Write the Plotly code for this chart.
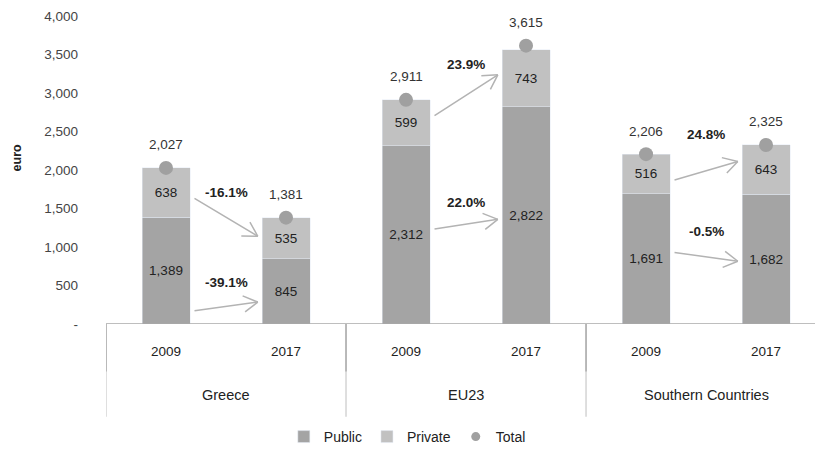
import math
import plotly.graph_objects as go

# Spending per student (euro), split into public and private sources
groups = ["Greece", "EU23", "Southern Countries"]
years = ["2009", "2017"]
public = [1389, 845, 2312, 2822, 1691, 1682]
private = [638, 535, 599, 743, 516, 643]
total = [2027, 1381, 2911, 3615, 2206, 2325]
change_private = ["-16.1%", "23.9%", "24.8%"]
change_public = ["-39.1%", "22.0%", "-0.5%"]
y_ticks = [0, 500, 1000, 1500, 2000, 2500, 3000, 3500, 4000]
y_tick_text = ["-", "500", "1,000", "1,500", "2,000", "2,500", "3,000", "3,500", "4,000"]

# Placement of the change arrows / labels (euro levels: start, end)
arrow_private = [(1644, 1139), (2693, 3236), (1864, 2110)]
arrow_public = [(168, 285), (1230, 1359), (932, 815)]
label_private = [1709, 3366, 2460]
label_public = [544, 1579, 1204]

PUBLIC_C = "#a4a4a4"
PRIVATE_C = "#c1c1c1"
TOTAL_C = "#a0a0a0"
TEXT_C = "#222222"
LINE_C = "#a9a9a9"
ARROW_C = "#b3b3b3"
FONT = "Liberation Sans, Arial, sans-serif"

W, H = 815, 453
M_L, M_R, M_T, M_B = 106, 0, 16, 128
X_RANGE = [-0.5, 5.408]
Y_RANGE = [0, 4000]
plot_w = W - M_L - M_R
plot_h = H - M_T - M_B
px_x = plot_w / (X_RANGE[1] - X_RANGE[0])
px_y = plot_h / (Y_RANGE[1] - Y_RANGE[0])

pos = list(range(len(public)))
BAR_W = 0.4

fig = go.Figure()
fig.add_trace(go.Bar(
    x=pos, y=public, name="Public", marker_color=PUBLIC_C, width=BAR_W,
    texttemplate="%{y:,}", textposition="inside", insidetextanchor="middle",
    textangle=0, textfont=dict(size=13.5, color=TEXT_C, family=FONT),
    hoverinfo="skip",
))
fig.add_trace(go.Bar(
    x=pos, y=private, name="Private", marker_color=PRIVATE_C, width=BAR_W,
    texttemplate="%{y:,}", textposition="inside", insidetextanchor="middle",
    textangle=0, textfont=dict(size=13.5, color=TEXT_C, family=FONT),
    hoverinfo="skip",
))
fig.add_trace(go.Scatter(
    x=pos, y=total, mode="markers", showlegend=False,
    marker=dict(size=14, color=TOTAL_C), hoverinfo="skip",
))
# small dot used only for the legend entry
fig.add_trace(go.Scatter(
    x=[None], y=[None], mode="markers", name="Total",
    marker=dict(size=9, color=TOTAL_C),
))

annotations = []
# total labels above the dots
for p, t in zip(pos, total):
    annotations.append(dict(
        x=p, y=t, xref="x", yref="y", text=f"{t:,}", showarrow=False,
        yshift=23, font=dict(size=13.5, color="#333333", family=FONT),
    ))


def open_arrow(x0, y0, x1, y1, head=18, half_angle=30):
    """Thin arrow from (x0, y0) to (x1, y1) with an open V head."""
    items = [dict(
        x=x1, y=y1, ax=x0, ay=y0, xref="x", yref="y", axref="x", ayref="y",
        text="", showarrow=True, arrowhead=0, arrowwidth=1.5,
        arrowcolor=ARROW_C, standoff=0, startstandoff=0,
    )]
    # direction back along the shaft, in screen pixels (y grows downwards)
    dx = -(x1 - x0) * px_x
    dy = (y1 - y0) * px_y
    n = math.hypot(dx, dy)
    ux, uy = dx / n, dy / n
    for sgn in (1, -1):
        a = math.radians(half_angle) * sgn
        vx = ux * math.cos(a) - uy * math.sin(a)
        vy = ux * math.sin(a) + uy * math.cos(a)
        items.append(dict(
            x=x1, y=y1, xref="x", yref="y", ax=vx * head, ay=vy * head,
            text="", showarrow=True, arrowhead=0, arrowwidth=1.5,
            arrowcolor=ARROW_C, standoff=0, startstandoff=0,
        ))
    return items


# change arrows and percentage labels between each pair of bars
for g in range(len(groups)):
    p0 = pos[2 * g]
    p1 = pos[2 * g + 1]
    mid = (p0 + p1) / 2
    for (ys, ye), lab_y, lab in (
        (arrow_private[g], label_private[g], change_private[g]),
        (arrow_public[g], label_public[g], change_public[g]),
    ):
        annotations += open_arrow(p0 + 0.225, ys, p1 - 0.235, ye)
        annotations.append(dict(
            x=mid, y=lab_y, xref="x", yref="y", text=f"<b>{lab}</b>",
            showarrow=False, font=dict(size=13.5, color=TEXT_C, family=FONT),
        ))

# category axis: years and group names below the baseline
for i, p in enumerate(pos):
    annotations.append(dict(
        x=p, y=0, xref="x", yref="paper", yanchor="middle", text=years[i % 2],
        showarrow=False, yshift=-27,
        font=dict(size=13.5, color=TEXT_C, family=FONT),
    ))
for g, name in enumerate(groups):
    annotations.append(dict(
        x=(pos[2 * g] + pos[2 * g + 1]) / 2, y=0, xref="x", yref="paper",
        yanchor="middle", text=name, showarrow=False, yshift=-71,
        font=dict(size=14.5, color=TEXT_C, family=FONT),
    ))

# y axis title
annotations.append(dict(
    x=0, y=2150, xref="paper", yref="y", xanchor="center", yanchor="middle",
    text="<b>euro</b>", showarrow=False, textangle=-90, xshift=-89,
    font=dict(size=12.5, color=TEXT_C, family=FONT),
))

shapes = [dict(type="line", xref="paper", yref="y", x0=0, x1=1, y0=0, y1=0,
               line=dict(color=LINE_C, width=1.5))]
for xb in (-0.5, 1.5, 3.5):
    shapes.append(dict(type="line", xref="x", yref="paper", x0=xb, x1=xb,
                       y0=0, y1=-48 / plot_h, line=dict(color="#a2a2a2", width=1.5)))
    shapes.append(dict(type="line", xref="x", yref="paper", x0=xb, x1=xb,
                       y0=-48 / plot_h, y1=-93 / plot_h,
                       line=dict(color="#d4d4d4", width=1.5)))

fig.update_layout(
    width=W, height=H,
    margin=dict(l=M_L, r=M_R, t=M_T, b=M_B),
    barmode="stack",
    plot_bgcolor="white", paper_bgcolor="white",
    font=dict(family=FONT, color=TEXT_C),
    xaxis=dict(range=X_RANGE, showticklabels=False, showgrid=False,
               zeroline=False, showline=False, fixedrange=True),
    yaxis=dict(range=Y_RANGE, tickvals=y_ticks, ticktext=y_tick_text,
               showgrid=False, zeroline=False, showline=False,
               ticks="", ticklabelstandoff=27,
               tickfont=dict(size=13.5, color="#444444", family=FONT)),
    legend=dict(orientation="h", x=0.425, y=-114 / plot_h, xanchor="center",
                yanchor="middle", font=dict(size=14, color=TEXT_C, family=FONT),
                itemwidth=30, traceorder="normal"),
    showlegend=True,
    annotations=annotations,
    shapes=shapes,
)

fig.write_html("out.html")
